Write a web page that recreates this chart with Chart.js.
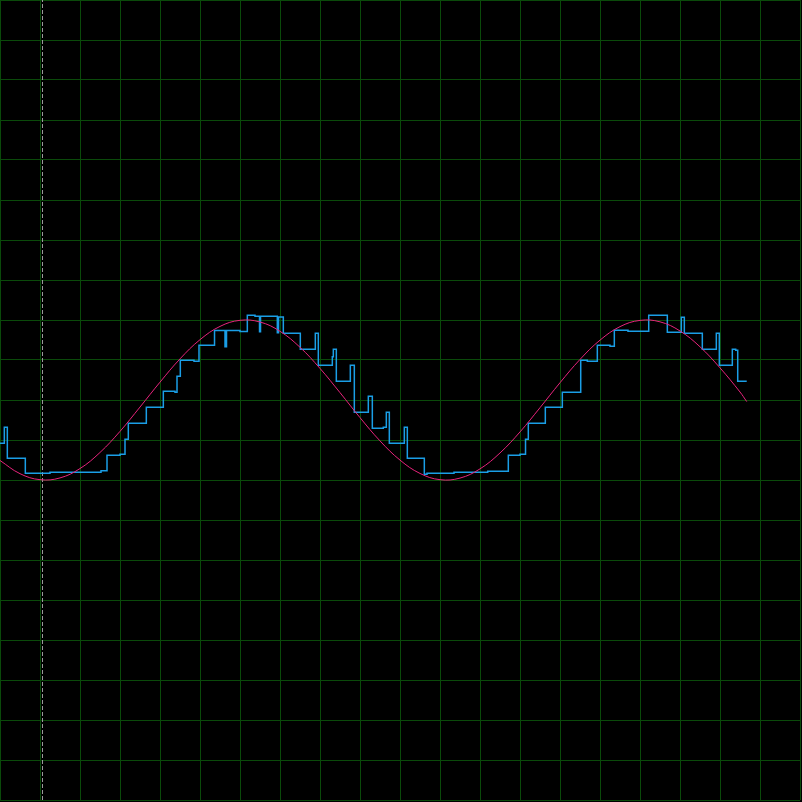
<!DOCTYPE html>
<html>
<head>
<meta charset="utf-8">
<script src="https://cdn.jsdelivr.net/npm/chart.js@4"></script>
<style>
  html, body { margin: 0; padding: 0; background: #000; }
  canvas { display: block; background: #000; }
</style>
</head>
<body>
<canvas id="scope" width="802" height="802"></canvas>
<script>
// Time axis in ms (1 div = 1 ms), voltage in V (1 div = 0.5 V)
const sineTimes = [0, 0.5, 1, 1.5, 2, 2.5, 3, 3.5, 4, 4.5, 5, 5.5, 6, 6.5, 7, 7.5, 8, 8.5, 9, 9.5,
  10, 10.5, 11, 11.5, 12, 12.5, 13, 13.5, 14, 14.5, 15, 15.5, 16, 16.5, 17, 17.5, 18, 18.5, 18.668];
const sineVolts = [-0.756, -0.921, -0.996, -0.974, -0.857, -0.656, -0.392, -0.088, 0.223, 0.514,
  0.754, 0.920, 0.996, 0.975, 0.859, 0.659, 0.395, 0.092, -0.220, -0.511,
  -0.751, -0.918, -0.996, -0.976, -0.861, -0.662, -0.399, -0.096, 0.216, 0.507,
  0.748, 0.917, 0.995, 0.977, 0.863, 0.665, 0.402, 0.100, -0.02];

// sampled signal: each entry is where the held value changes
const stepTimes = [0, 0.108, 0.183, 0.633, 1.25, 2.525, 2.675, 3.0, 3.125, 3.208, 3.658, 4.083, 4.375, 4.425,
  4.508, 4.85, 4.975, 5.363, 5.625, 5.663, 6.0, 6.183, 6.375, 6.488, 6.513, 6.933, 6.963, 7.083, 7.508,
  7.883, 7.958, 8.308, 8.333, 8.408, 8.758, 8.858, 9.208, 9.308, 9.583, 9.658, 9.733, 10.108, 10.183,
  10.608, 10.675, 11.35, 12.193, 12.708, 13.0, 13.138, 13.208, 13.633, 14.058, 14.518, 14.683, 14.933,
  15.25, 15.358, 15.7, 16.218, 16.683, 17.033, 17.108, 17.558, 17.908, 17.983, 18.308, 18.393, 18.443, 18.668];
const stepVolts = [-0.541, -0.341, -0.729, -0.916, -0.904, -0.884, -0.691, -0.679, -0.491, -0.291, -0.091, 0.109, 0.096, 0.296,
  0.496, 0.484, 0.684, 0.869, 0.666, 0.869, 0.856, 1.059, 1.046, 0.854, 1.046, 0.841, 1.038, 0.834, 0.634,
  0.834, 0.434, 0.541, 0.634, 0.234, 0.434, -0.154, 0.046, -0.354, -0.341, -0.154, -0.541, -0.341, -0.729,
  -0.929, -0.916, -0.904, -0.891, -0.691, -0.679, -0.491, -0.291, -0.091, 0.096, 0.496, 0.484, 0.684,
  0.671, 0.871, 0.859, 1.059, 0.846, 1.034, 0.834, 0.634, 0.834, 0.434, 0.634, 0.621, 0.234, 0.234];

const triggerTime = 1.0625;
const timeRange = [0, 20];
const voltRange = [-5, 5];

const sinePoints = sineTimes.map((t, i) => ({x: t, y: sineVolts[i]}));
const stepPoints = stepTimes.map((t, i) => ({x: t, y: stepVolts[i]}));

new Chart(document.getElementById('scope').getContext('2d'), {
    type: 'line',
    data: {
        datasets: [
            {
                data: sinePoints,
                borderColor: '#e8237c',
                borderWidth: 1,
                pointRadius: 0,
                tension: 0.4
            },
            {
                data: stepPoints,
                borderColor: '#1a9ee6',
                borderWidth: 1.5,
                pointRadius: 0,
                stepped: true
            },
            {
                data: [{x: triggerTime, y: voltRange[0]}, {x: triggerTime, y: voltRange[1]}],
                borderColor: '#9a9a9a',
                borderWidth: 1,
                borderDash: [4, 2],
                pointRadius: 0
            }
        ]
    },
    options: {
        responsive: false,
        animation: false,
        devicePixelRatio: 1,
        layout: { padding: { left: 0, top: 0, right: 2, bottom: 2 } },
        plugins: {
            legend: { display: false },
            tooltip: { enabled: false }
        },
        scales: {
            x: {
                type: 'linear',
                min: timeRange[0],
                max: timeRange[1],
                ticks: { display: false, stepSize: 1 },
                grid: { color: '#0a4a0a', lineWidth: 1, drawTicks: false },
                border: { display: false }
            },
            y: {
                type: 'linear',
                min: voltRange[0],
                max: voltRange[1],
                ticks: { display: false, stepSize: 0.5 },
                grid: { color: '#0a4a0a', lineWidth: 1, drawTicks: false },
                border: { display: false }
            }
        }
    }
});
</script>
</body>
</html>
